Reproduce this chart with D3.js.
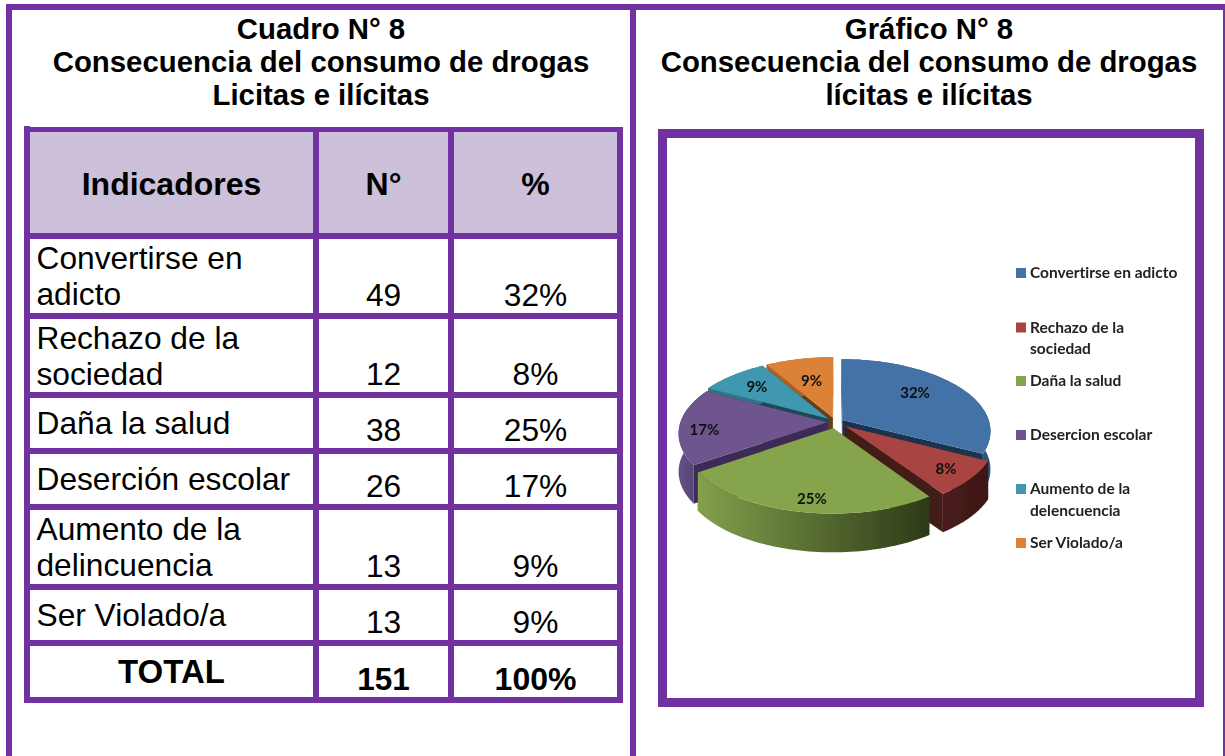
<!DOCTYPE html>
<html><head><meta charset="utf-8">
<script src="https://cdn.jsdelivr.net/npm/d3@7/dist/d3.min.js"></script>
<style>html,body{margin:0;padding:0;background:#fff;overflow:hidden}svg{display:block}text{font-variant-ligatures:none}</style>
</head><body><svg id="c" width="1225" height="756"></svg>
<script>
// ---- data
const leftTitle = ["Cuadro N° 8","Consecuencia del consumo de drogas","Licitas e ilícitas"];
const rightTitle = ["Gráfico N° 8","Consecuencia del consumo de drogas","lícitas e ilícitas"];
const tableHead = ["Indicadores","N°","%"];
const tableLabels = [["Convertirse en","adicto"],["Rechazo de la","sociedad"],["Daña la salud"],["Deserción escolar"],["Aumento de la","delincuencia"],["Ser Violado/a"]];
const counts = [49,12,38,26,13,13];
const percents = ["32%","8%","25%","17%","9%","9%"];
const totalRow = ["TOTAL","151","100%"];
const legendLabels = [["Convertirse en adicto"],["Rechazo de la","sociedad"],["Daña la salud"],["Desercion escolar"],["Aumento de la","delencuencia"],["Ser Violado/a"]];
const topColors = ["#4272a6","#a84542","#86a44b","#6e548e","#3f98b0","#db8238"];
const wallColors = ["#1b3350","#431a19","#3d4d20","#3e2b58","#1d4a58","#6b3d17"];
const sideLeft = ["#3a6494","#4a1d1c","#84a04c","#65528a","#2f7488","#a8602a"];
const sideRight = ["#2d5680","#3c1615","#2c3a17","#4a3863","#2f7488","#a8602a"];
const labelFraction = [0.68,0.82,0.85,0.83,0.73,0.6];
const labelTurn = [-7,0,-2.5,-4,0,0];
const explodeBy = [8,13,13,8,10,10];

// ---- layout
const purple = "#7231a0";
const svg = d3.select("#c");
const sans = "'Liberation Sans',Arial,sans-serif", cal = "Lato,sans-serif";
const bar = (x,y,w,h,f=purple)=>svg.append("rect").attr("x",x).attr("y",y).attr("width",w).attr("height",h).attr("fill",f);

bar(6,4,1219,6); bar(6,4,6,752); bar(630,4,6,752); bar(1223,4,2,752);

function title(lines,cx){
  const base=[38.5,71.5,105];
  svg.selectAll(null).data(lines).enter().append("text").text(d=>d)
   .attr("x",cx).attr("y",(d,i)=>base[i]).attr("text-anchor","middle")
   .attr("font-family",sans).attr("font-weight","bold").attr("font-size",29.35).attr("fill","#000");
}
title(leftTitle,321); title(rightTitle,929);

// table
const colEdges=[24,313,448,617], lw=6;
const rowEdges=[233,313,392,448,504,584,640,697];
const tableTop=127, tableBottom=703;
bar(30,132,283,101,"#ccc0da"); bar(319,132,129,101,"#ccc0da"); bar(454,132,163,101,"#ccc0da");
bar(30,127,593,5);
colEdges.forEach(x=>bar(x,x===24?126:127,lw,tableBottom-(x===24?126:127)));
rowEdges.forEach(y=>bar(24,y,599,lw));
const colCenter=i=>(colEdges[i]+lw+colEdges[i+1])/2;
const txt=(s,x,y,o={})=>svg.append("text").text(s).attr("x",x).attr("y",y)
  .attr("text-anchor",o.a||"middle").attr("font-family",o.f||sans)
  .attr("font-weight",o.b?"bold":"normal").attr("font-size",o.s||31.7).attr("fill","#000");
tableHead.forEach((h,i)=>txt(h,colCenter(i),195,{b:1,s:32}));
tableLabels.forEach((lines,r)=>{
  const top=rowEdges[r]+lw, first=top+(lines.length>1?29.5:36);
  lines.forEach((l,i)=>txt(l,36.5,first+i*36.5,{a:"start"}));
  const by=rowEdges[r+1]-7;
  txt(counts[r],colCenter(1),by); txt(percents[r],colCenter(2),by);
});
txt(totalRow[0],colCenter(0),683,{b:1,s:33});
txt(totalRow[1],colCenter(1),690,{b:1,s:31.5});
txt(totalRow[2],colCenter(2),690,{b:1,s:32});

// chart frame
svg.append("rect").attr("x",662.5).attr("y",133.5).attr("width",537).attr("height",569)
  .attr("fill","#fff").attr("stroke",purple).attr("stroke-width",9);

// pie
const defs=svg.append("defs");
defs.append("filter").attr("id","soft").append("feGaussianBlur").attr("stdDeviation",0.45);
const cx=835.5,cy=422,R=147,tilt=0.48,k=0.15,depth=38;
const project=(X,Y,z=0)=>{const s=1/(1-k*Y/R);return [cx+X*s,cy+Y*tilt*s+z*(0.9+0.1*s)];};
const arcs=d3.pie().sort(null)(counts);
const line=d3.line();
const g=svg.append("g").attr("filter","url(#soft)");
const sl=arcs.map((a,i)=>{
  const mid=(a.startAngle+a.endAngle)/2;
  const ox=explodeBy[i]*Math.sin(mid), oy=-explodeBy[i]*Math.cos(mid);
  const P=(ang,r,z=0)=>project(ox+r*Math.sin(ang),oy-r*Math.cos(ang),z);
  return {i,a,mid,P,depthKey:oy-0.35*R*Math.cos(mid)};
}).sort((p,q)=>p.depthKey-q.depthKey);

sl.forEach(({i,a,P})=>{
  const angs=d3.range(0,61).map(t=>a.startAngle+(a.endAngle-a.startAngle)*t/60);
  const topArc=angs.map(t=>P(t,R));
  const botArc=angs.map(t=>P(t,R,depth)).reverse();
  const xs=topArc.map(p=>p[0]);
  const gid="side"+i;
  const gr=defs.append("linearGradient").attr("id",gid).attr("gradientUnits","userSpaceOnUse")
    .attr("x1",d3.min(xs)).attr("x2",d3.max(xs)).attr("y1",0).attr("y2",0);
  gr.append("stop").attr("offset",0).attr("stop-color",sideLeft[i]);
  gr.append("stop").attr("offset",1).attr("stop-color",sideRight[i]);
  [a.startAngle,a.endAngle].forEach(t=>{
    g.append("path").attr("d",line([P(t,0),P(t,R),P(t,R,depth),P(t,0,depth)])+"Z").attr("fill",wallColors[i]);
  });
  g.append("path").attr("d",line(topArc.concat(botArc))+"Z").attr("fill",`url(#${gid})`);
  g.append("path").attr("d",line([P(0,0)].concat(topArc))+"Z").attr("fill",topColors[i]);
});
arcs.forEach((a,i)=>{
  const s=sl.find(d=>d.i===i);
  const p=s.P(s.mid+labelTurn[i]*Math.PI/180,R*labelFraction[i]);
  g.append("text").text(percents[i]).attr("x",p[0]).attr("y",p[1]+5.5).attr("text-anchor","middle")
   .attr("font-family",cal).attr("font-weight","bold").attr("font-size",15).attr("fill","#111");
});

// legend
const legBase=[278,332.5,386,440,494,548];
legendLabels.forEach((lines,i)=>{
  const y=legBase[i];
  g.append("rect").attr("x",1016).attr("y",y-10).attr("width",10).attr("height",10).attr("fill",topColors[i]);
  lines.forEach((l,j)=>g.append("text").text(l).attr("x",1030).attr("y",y+j*21.5)
    .attr("font-family",cal).attr("font-weight","bold").attr("font-size",15.5).attr("fill","#222"));
});
</script></body></html>
